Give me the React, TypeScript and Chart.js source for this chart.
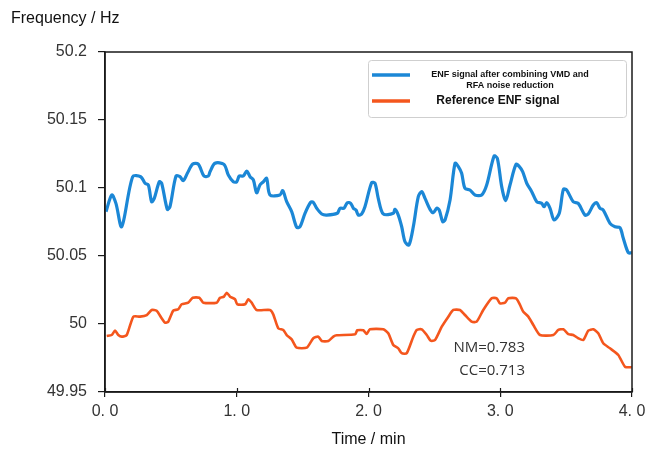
import React, { useEffect, useRef } from "react";
import { Chart, registerables } from "chart.js";

Chart.register(...registerables);

const xTickValues = [0, 1, 2, 3, 4];
const xTickLabels = ["0. 0", "1. 0", "2. 0", "3. 0", "4. 0"];
const yTickValues = [49.95, 50, 50.05, 50.1, 50.15, 50.2];
const yTickLabels = ["49.95", "50", "50.05", "50.1", "50.15", "50.2"];

const seriesNames = ["ENF signal after combining VMD and RFA noise reduction", "Reference ENF signal"];

const blueTime = [
  0.008, 0.051, 0.083, 0.127, 0.21, 0.271, 0.304, 0.329, 0.354, 0.374, 0.412, 0.43, 0.473, 0.493, 0.539, 0.569,
  0.594, 0.625, 0.666, 0.708, 0.751, 0.784, 0.797, 0.835, 0.903, 0.936, 0.974, 1.0, 1.019, 1.05, 1.076, 1.101,
  1.126, 1.151, 1.176, 1.202, 1.227, 1.252, 1.328, 1.349, 1.379, 1.417, 1.455, 1.48, 1.518, 1.561, 1.581, 1.607,
  1.645, 1.683, 1.763, 1.784, 1.814, 1.839, 1.865, 1.885, 1.905, 1.923, 1.948, 1.973, 2.024, 2.049, 2.074, 2.112,
  2.188, 2.201, 2.226, 2.252, 2.277, 2.307, 2.34, 2.378, 2.404, 2.429, 2.467, 2.492, 2.518, 2.537, 2.563, 2.581,
  2.619, 2.657, 2.682, 2.707, 2.732, 2.77, 2.808, 2.859, 2.897, 2.953, 2.978, 3.011, 3.041, 3.074, 3.12, 3.145,
  3.17, 3.201, 3.239, 3.277, 3.315, 3.332, 3.353, 3.378, 3.408, 3.448, 3.479, 3.504, 3.554, 3.592, 3.643, 3.668,
  3.706, 3.732, 3.757, 3.782, 3.833, 3.871, 3.909, 3.934, 3.972, 3.998,
];
const blueFreq = [
  50.0826, 50.0949, 50.0887, 50.0715, 50.1083, 50.1083, 50.1035, 50.1022, 50.0899, 50.0924, 50.1046, 50.1035,
  50.0843, 50.0862, 50.1088, 50.1083, 50.1054, 50.1108, 50.1176, 50.1176, 50.1088, 50.1088, 50.112, 50.1182,
  50.1174, 50.1096, 50.1046, 50.1046, 50.1088, 50.1088, 50.1125, 50.1083, 50.1059, 50.0965, 50.1022, 50.1046,
  50.1071, 50.0949, 50.0949, 50.098, 50.0899, 50.0826, 50.0711, 50.0715, 50.0814, 50.0895, 50.0895, 50.0851,
  50.0809, 50.0801, 50.0814, 50.0851, 50.0851, 50.0892, 50.0887, 50.0851, 50.0838, 50.0801, 50.0809, 50.0862,
  50.1039, 50.1035, 50.0924, 50.0809, 50.0814, 50.0843, 50.0801, 50.0715, 50.0605, 50.0581, 50.0715, 50.0936,
  50.0973, 50.0924, 50.0843, 50.0818, 50.0851, 50.0838, 50.0752, 50.0765, 50.0912, 50.1182, 50.1157, 50.1108,
  50.0998, 50.0985, 50.0949, 50.0949, 50.1022, 50.1235, 50.1218, 50.101, 50.0907, 50.1022, 50.1174, 50.1157,
  50.112, 50.1035, 50.0973, 50.0899, 50.0887, 50.0862, 50.0892, 50.0851, 50.0765, 50.0814, 50.099, 50.0985,
  50.0899, 50.0887, 50.0801, 50.0809, 50.0875, 50.0892, 50.0851, 50.0838, 50.074, 50.0715, 50.0708, 50.063,
  50.0524, 50.0524,
];

const orangeTime = [
  0.013, 0.051, 0.076, 0.101, 0.127, 0.165, 0.215, 0.266, 0.317, 0.354, 0.392, 0.43, 0.455, 0.48, 0.518, 0.556,
  0.582, 0.632, 0.666, 0.716, 0.746, 0.848, 0.873, 0.903, 0.924, 0.949, 0.987, 1.004, 1.063, 1.088, 1.113, 1.151,
  1.252, 1.277, 1.315, 1.353, 1.379, 1.417, 1.455, 1.531, 1.581, 1.619, 1.645, 1.695, 1.733, 1.759, 1.898, 1.915,
  1.961, 1.986, 2.011, 2.112, 2.15, 2.188, 2.226, 2.252, 2.29, 2.34, 2.366, 2.404, 2.442, 2.472, 2.505, 2.556,
  2.606, 2.644, 2.694, 2.732, 2.783, 2.821, 2.871, 2.935, 2.973, 2.998, 3.036, 3.061, 3.12, 3.15, 3.175, 3.213,
  3.251, 3.302, 3.403, 3.441, 3.479, 3.517, 3.554, 3.592, 3.63, 3.668, 3.706, 3.744, 3.782, 3.833, 3.896, 3.947,
  3.998,
];
const orangeFreq = [
  49.9912, 49.9919, 49.9951, 49.9919, 49.9907, 49.9919, 50.0054, 50.0054, 50.0066, 50.0103, 50.0098, 50.0042,
  50.001, 50.0017, 50.0098, 50.0108, 50.0145, 50.0157, 50.0193, 50.0193, 50.0157, 50.0157, 50.0193, 50.0201,
  50.023, 50.0201, 50.0182, 50.0145, 50.0145, 50.0182, 50.0157, 50.0103, 50.0103, 50.0071, 49.9968, 49.9956,
  49.9919, 49.9887, 49.9826, 49.9826, 49.9895, 49.9907, 49.9875, 49.9875, 49.9907, 49.9917, 49.9924, 49.9954,
  49.9954, 49.9926, 49.9961, 49.9961, 49.9932, 49.9846, 49.9821, 49.9785, 49.9785, 49.9907, 49.9956, 49.9961,
  49.9919, 49.9877, 49.9882, 49.998, 50.0054, 50.0103, 50.0103, 50.0066, 50.0017, 50.0017, 50.0103, 50.0189,
  50.0189, 50.0152, 50.0157, 50.0189, 50.0189, 50.014, 50.009, 50.0054, 49.9993, 49.9919, 49.9919, 49.9956,
  49.9961, 49.9926, 49.9919, 49.9895, 49.9882, 49.9951, 49.9961, 49.9932, 49.9858, 49.9821, 49.9772, 49.9686,
  49.9682,
];

const metricLabels = ["NM=0.783", "CC=0.713"];

const BLUE = "#1b87d6";
const ORANGE = "#f4561d";
const AXIS = "#1a1a1a";
const TEXT = "#333333";

const overlayPlugin = {
  id: "overlay",
  afterDraw(chart: any) {
    const ctx = chart.ctx as CanvasRenderingContext2D;
    const a = chart.chartArea;
    const xs = chart.scales.x;
    ctx.save();
    // frame
    ctx.strokeStyle = AXIS;
    ctx.lineWidth = 1.5;
    ctx.strokeRect(a.left, a.top, a.right - a.left, a.bottom - a.top);
    // inner part of x ticks
    ctx.lineWidth = 1.2;
    xTickValues.forEach((v) => {
      const px = Math.round(xs.getPixelForValue(v)) + 0.5;
      ctx.beginPath();
      ctx.moveTo(px, a.bottom);
      ctx.lineTo(px, a.bottom - 4);
      ctx.stroke();
    });
    // axis titles
    ctx.fillStyle = "#111";
    ctx.font = "16px 'Liberation Sans', Arial, sans-serif";
    ctx.textBaseline = "middle";
    ctx.textAlign = "left";
    ctx.fillText("Frequency / Hz", 11, 19);
    ctx.textAlign = "center";
    ctx.fillText("Time / min", (a.left + a.right) / 2, 440);
    // legend box
    const lx = 368, ly = 60, lw = 258, lh = 57;
    ctx.strokeStyle = "#cfcfcf";
    ctx.lineWidth = 1;
    ctx.beginPath();
    (ctx as any).roundRect(lx + 0.5, ly + 0.5, lw, lh, 3);
    ctx.stroke();
    ctx.lineWidth = 3.5;
    ctx.strokeStyle = BLUE;
    ctx.beginPath();
    ctx.moveTo(372, 75);
    ctx.lineTo(410, 75);
    ctx.stroke();
    ctx.strokeStyle = ORANGE;
    ctx.beginPath();
    ctx.moveTo(372, 101);
    ctx.lineTo(410, 101);
    ctx.stroke();
    ctx.fillStyle = "#111";
    ctx.textAlign = "center";
    ctx.font = "bold 9px 'Liberation Sans', Arial, sans-serif";
    ctx.fillText("ENF signal after combining VMD and", 510, 75);
    ctx.fillText("RFA noise reduction", 510, 85.5);
    ctx.font = "bold 12px 'Liberation Sans', Arial, sans-serif";
    ctx.fillText(seriesNames[1], 498, 101);
    // metrics
    ctx.fillStyle = TEXT;
    ctx.font = "15px 'Open Sans', 'Noto Sans', sans-serif";
    ctx.textAlign = "right";
    ctx.fillText(metricLabels[0], 525, 348);
    ctx.fillText(metricLabels[1], 525, 371);
    ctx.restore();
  },
};

export default function App() {
  const ref = useRef<HTMLCanvasElement | null>(null);
  useEffect(() => {
    if (!ref.current) return;
    const chart = new Chart(ref.current, {
      type: "line",
      data: {
        datasets: [
          {
            label: seriesNames[0],
            data: blueTime.map((t, i) => ({ x: t, y: blueFreq[i] })),
            borderColor: BLUE,
            borderWidth: 3.2,
            pointRadius: 0,
            tension: 0.3,
            fill: false,
          },
          {
            label: seriesNames[1],
            data: orangeTime.map((t, i) => ({ x: t, y: orangeFreq[i] })),
            borderColor: ORANGE,
            borderWidth: 2.6,
            pointRadius: 0,
            tension: 0.2,
            fill: false,
          },
        ],
      },
      options: {
        animation: false,
        responsive: false,
        layout: { padding: { left: 0, right: 14, top: 52, bottom: 0 } },
        plugins: { legend: { display: false }, tooltip: { enabled: false }, title: { display: false } },
        scales: {
          x: {
            type: "linear",
            min: 0,
            max: 4,
            afterBuildTicks: (s: any) => {
              s.ticks = xTickValues.map((v) => ({ value: v }));
            },
            afterFit: (s: any) => {
              s.height = 59;
              s.paddingLeft = 0;
              s.paddingRight = 0;
            },
            ticks: {
              callback: (_v: any, i: number) => xTickLabels[i],
              color: TEXT,
              font: { family: "'Liberation Sans', Arial, sans-serif", size: 16 },
              padding: 5,
              maxRotation: 0,
              autoSkip: false,
            },
            grid: { drawOnChartArea: false, tickLength: 5, color: AXIS, lineWidth: 1.2 },
            border: { color: AXIS, width: 1.5 },
          },
          y: {
            type: "linear",
            min: 49.95,
            max: 50.2,
            afterBuildTicks: (s: any) => {
              s.ticks = yTickValues.map((v) => ({ value: v }));
            },
            afterFit: (s: any) => {
              s.width = 105;
              s.paddingTop = 0;
              s.paddingBottom = 0;
            },
            ticks: {
              callback: (_v: any, i: number) => yTickLabels[i],
              color: TEXT,
              font: { family: "'Liberation Sans', Arial, sans-serif", size: 16 },
              padding: 11,
              autoSkip: false,
            },
            grid: { drawOnChartArea: false, tickLength: 7, color: AXIS, lineWidth: 1.2 },
            border: { color: AXIS, width: 1.5 },
          },
        },
      },
      plugins: [overlayPlugin],
    } as any);
    return () => chart.destroy();
  }, []);
  return (
    <div style={{ position: "absolute", left: 0, top: 0, width: 646, height: 451, background: "#fff" }}>
      <canvas ref={ref} width={646} height={451} style={{ width: 646, height: 451, display: "block" }} />
    </div>
  );
}
